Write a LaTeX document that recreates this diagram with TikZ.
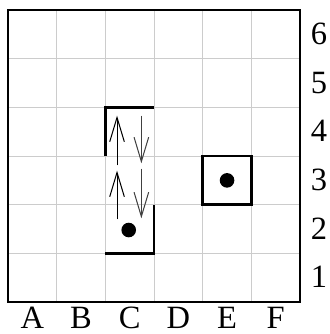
\documentclass[tikz,border=0pt]{standalone}
\usepackage{fontspec}
\setmainfont{Liberation Serif}
\usetikzlibrary{arrows.meta}
\tikzset{
  wall/.style={line width=1.5pt},
  move/.style={line width=0.6pt,-{Straight Barb[length=5mm,width=3mm,line width=0.6pt]}},
  token/.style={fill=black,circle,inner sep=0pt,minimum size=3mm},
  lbl/.style={anchor=base,inner sep=0pt,text depth=0pt,font=\fontsize{19}{22}\selectfont}
}
\begin{document}
\begin{tikzpicture}
\useasboundingbox (-0.164,-0.656) rectangle (6.6,6.205);
\draw[gray!40,line width=0.6pt] (0,0) grid (6,6);
\draw[line width=1.4pt] (0,0) rectangle (6,6);
\draw[wall] (2,3) -- (2,4) -- (3,4);
\draw[wall] (3,2) -- (3,1) -- (2,1);
\draw[wall] (4,2) rectangle (5,3);
\node[token] (p) at (2.48,1.48) {};
\node[token] (q) at (4.5,2.5) {};
\draw[move] (2.24,1.70) -- (2.24,2.70);
\draw[move] (2.24,2.81) -- (2.24,3.83);
\draw[move,black!75] (2.74,3.83) -- (2.74,2.85);
\draw[move,black!75] (2.74,2.74) -- (2.74,1.72);
\node[lbl] (colA) at (0.5,-0.54) {A};
\node[lbl] (colB) at (1.5,-0.54) {B};
\node[lbl] (colC) at (2.5,-0.54) {C};
\node[lbl] (colD) at (3.5,-0.54) {D};
\node[lbl] (colE) at (4.5,-0.54) {E};
\node[lbl] (colF) at (5.5,-0.54) {F};
\node[lbl] (row1) at (6.39,0.29) {1};
\node[lbl] (row2) at (6.39,1.29) {2};
\node[lbl] (row3) at (6.39,2.29) {3};
\node[lbl] (row4) at (6.39,3.29) {4};
\node[lbl] (row5) at (6.39,4.29) {5};
\node[lbl] (row6) at (6.39,5.29) {6};
\end{tikzpicture}
\end{document}
